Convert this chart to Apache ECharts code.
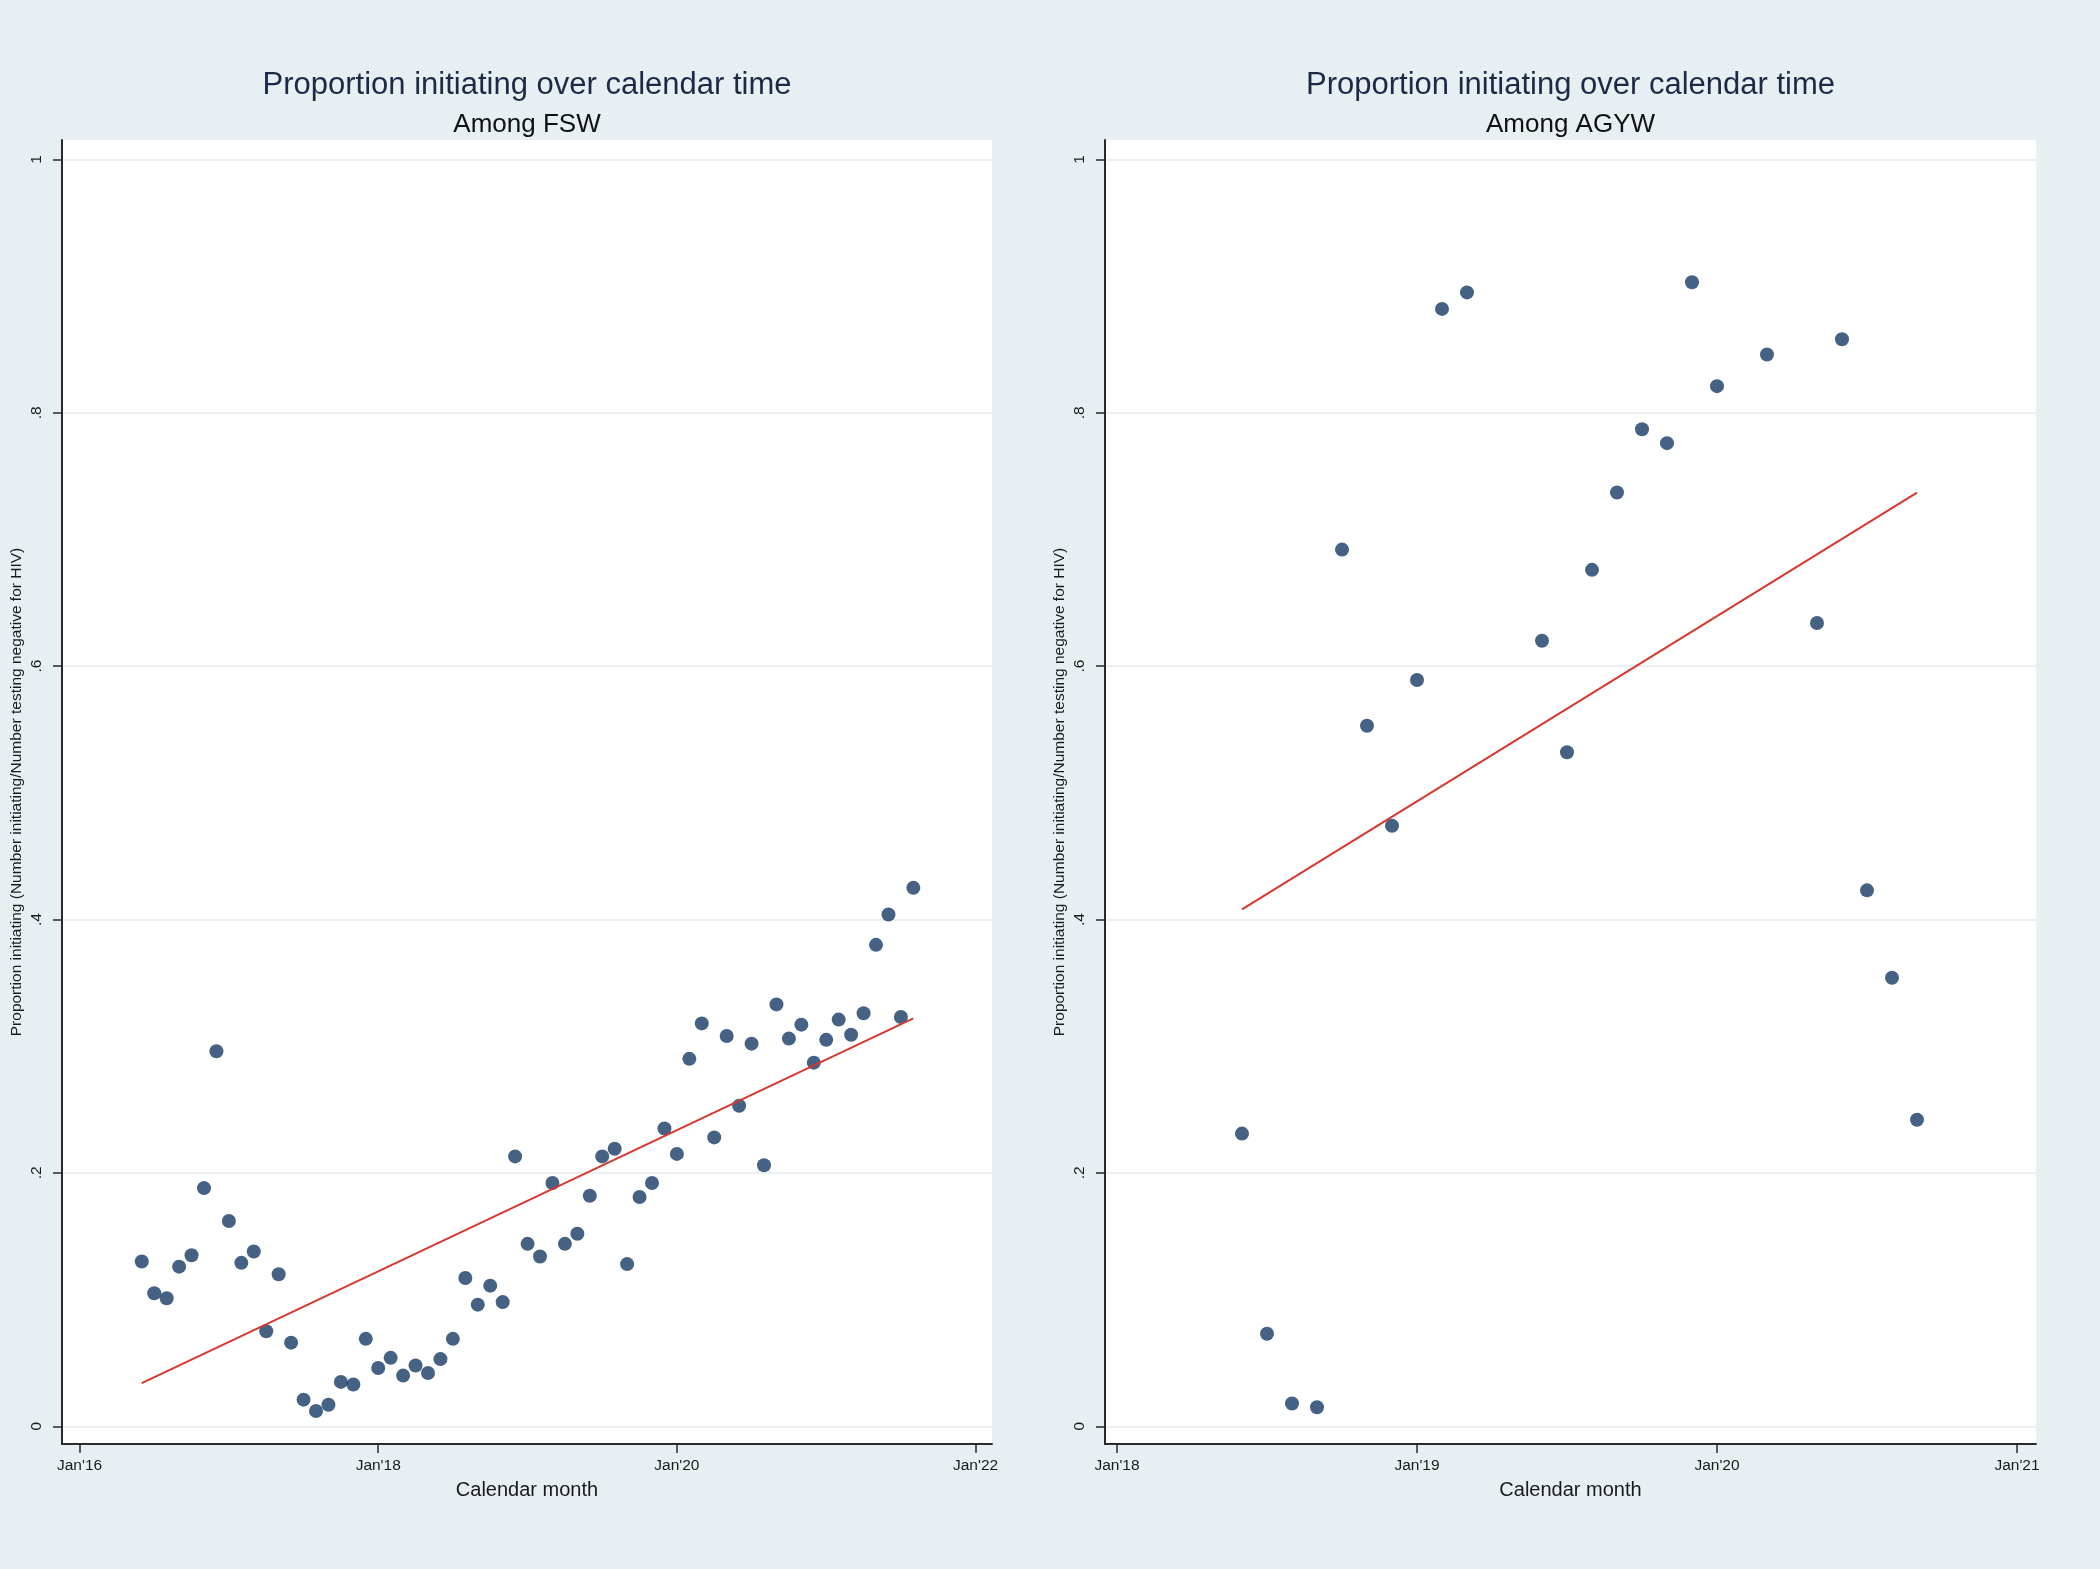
<!DOCTYPE html>
<html><head><meta charset="utf-8">
<script src="https://cdn.jsdelivr.net/npm/echarts@6/dist/echarts.min.js"></script>
<style>html,body{margin:0;padding:0;background:#e8eff2;}#c{width:2100px;height:1569px;}</style>
</head><body><div id="c"></div>
<script>
// ---------- data ----------
const titleText = 'Proportion initiating over calendar time';
const subtitles = ['Among FSW', 'Among AGYW'];
const xAxisTitle = 'Calendar month';
const yAxisTitle = 'Proportion initiating (Number initiating/Number testing negative for HIV)';

const yTickValues = [0, 0.2, 0.4, 0.6, 0.8, 1];
const yTickLabels = ['0', '.2', '.4', '.6', '.8', '1'];

const fswTickDates = ['2016-01', '2018-01', '2020-01', '2022-01'];
const fswTickLabels = ["Jan'16", "Jan'18", "Jan'20", "Jan'22"];
const agywTickDates = ['2018-01', '2019-01', '2020-01', '2021-01'];
const agywTickLabels = ["Jan'18", "Jan'19", "Jan'20", "Jan'21"];

const fswMonths = [
  '2016-06','2016-07','2016-08','2016-09','2016-10','2016-11','2016-12',
  '2017-01','2017-02','2017-03','2017-04','2017-05','2017-06','2017-07','2017-08','2017-09','2017-10','2017-11','2017-12',
  '2018-01','2018-02','2018-03','2018-04','2018-05','2018-06','2018-07','2018-08','2018-09','2018-10','2018-11','2018-12',
  '2019-01','2019-02','2019-03','2019-04','2019-05','2019-06','2019-07','2019-08','2019-09','2019-10','2019-11','2019-12',
  '2020-01','2020-02','2020-03','2020-04','2020-05','2020-06','2020-07','2020-08','2020-09','2020-10','2020-11','2020-12',
  '2021-01','2021-02','2021-03','2021-04','2021-05','2021-06','2021-07','2021-08'
];
const fswValues = [
  0.130, 0.105, 0.101, 0.126, 0.135, 0.188, 0.296,
  0.162, 0.129, 0.138, 0.075, 0.120, 0.066, 0.021, 0.012, 0.017, 0.035, 0.033, 0.069,
  0.046, 0.054, 0.040, 0.048, 0.042, 0.053, 0.069, 0.117, 0.096, 0.111, 0.098, 0.213,
  0.144, 0.134, 0.192, 0.144, 0.152, 0.182, 0.213, 0.219, 0.128, 0.181, 0.192, 0.235,
  0.215, 0.290, 0.318, 0.228, 0.308, 0.253, 0.302, 0.206, 0.333, 0.306, 0.317, 0.287,
  0.305, 0.321, 0.309, 0.326, 0.380, 0.404, 0.323, 0.425
];
const fswFitMonths = ['2016-06', '2021-08'];
const fswFitValues = [0.034, 0.322];

const agywMonths = [
  '2018-06','2018-07','2018-08','2018-09','2018-10','2018-11','2018-12',
  '2019-01','2019-02','2019-03','2019-06','2019-07','2019-08','2019-09','2019-10','2019-11','2019-12',
  '2020-01','2020-03','2020-05','2020-06','2020-07','2020-08','2020-09'
];
const agywValues = [
  0.231, 0.073, 0.018, 0.015, 0.692, 0.553, 0.474,
  0.589, 0.882, 0.895, 0.620, 0.532, 0.676, 0.737, 0.787, 0.776, 0.903,
  0.821, 0.846, 0.634, 0.858, 0.423, 0.354, 0.242
];
const agywFitMonths = ['2018-06', '2020-09'];
const agywFitValues = [0.408, 0.737];

// ---------- helpers ----------
function monthIndex(s, baseYear) {
  const [y, m] = s.split('-').map(Number);
  return (y - baseYear) * 12 + (m - 1);
}
function pairs(months, values, baseYear) {
  return months.map((d, i) => [monthIndex(d, baseYear), values[i]]);
}

const FONT = '"Liberation Sans", Arial, Helvetica, sans-serif';
const AXIS_COLOR = '#2a2a2a';
const DOT = '#163a64';
const FIT = '#d6372f';

function xAxisCfg(gridIndex, baseYear, tickDates, tickLabels, min, max) {
  const vals = tickDates.map(d => monthIndex(d, baseYear));
  return {
    type: 'value', gridIndex, min, max, position: 'bottom',
    axisLine: { show: true, onZero: false, lineStyle: { color: AXIS_COLOR, width: 2 } },
    axisTick: { show: true, customValues: vals, length: 9, lineStyle: { color: AXIS_COLOR, width: 1.5 } },
    axisLabel: {
      customValues: vals, margin: 14, color: '#1a1a1a', fontSize: 15.5, fontFamily: FONT,
      formatter: v => { const i = vals.indexOf(Math.round(v)); return i >= 0 ? tickLabels[i] : ''; }
    },
    splitLine: { show: false },
    name: xAxisTitle, nameLocation: 'middle', nameGap: 36,
    nameTextStyle: { color: '#1a1a1a', fontSize: 20, fontFamily: FONT }
  };
}
function yAxisCfg(gridIndex) {
  return {
    type: 'value', gridIndex, min: -0.014, max: 1.0153, position: 'left',
    axisLine: { show: true, onZero: false, lineStyle: { color: AXIS_COLOR, width: 2 } },
    axisTick: { show: true, customValues: yTickValues, length: 9, lineStyle: { color: AXIS_COLOR, width: 1.5 } },
    axisLabel: {
      customValues: yTickValues, rotate: 90, margin: 17, color: '#1a1a1a', fontSize: 15.5, fontFamily: FONT,
      formatter: v => { const i = yTickValues.findIndex(t => Math.abs(t - v) < 1e-6); return i >= 0 ? yTickLabels[i] : ''; }
    },
    splitLine: { show: true, lineStyle: { color: '#e5ecef', width: 1.5 } },
    name: yAxisTitle, nameLocation: 'middle', nameGap: 37, nameRotate: 90,
    nameTextStyle: { color: '#1a1a1a', fontSize: 15.5, fontFamily: FONT }
  };
}

const grids = [
  { left: 62, top: 140, width: 930, height: 1304, show: true, backgroundColor: '#ffffff', borderWidth: 0 },
  { left: 1105, top: 140, width: 931, height: 1304, show: true, backgroundColor: '#ffffff', borderWidth: 0 }
];
const centers = [62 + 930 / 2, 1105 + 931 / 2];

function titleCfg(text, cx, top, size, color) {
  return { text, left: cx, top, textAlign: 'center', padding: 0,
    textStyle: { color, fontSize: size, fontWeight: 'normal', fontFamily: FONT } };
}

const chart = echarts.init(document.getElementById('c'), null, { renderer: 'canvas' });
chart.setOption({
  backgroundColor: '#e8eff2',
  animation: false,
  title: [
    titleCfg(titleText, centers[0], 70, 31, '#1c2a48'),
    titleCfg(subtitles[0], centers[0], 112, 26, '#111'),
    titleCfg(titleText, centers[1], 70, 31, '#1c2a48'),
    titleCfg(subtitles[1], centers[1], 112, 26, '#111')
  ],
  grid: grids,
  xAxis: [
    xAxisCfg(0, 2016, fswTickDates, fswTickLabels, -1.41, 73.32),
    xAxisCfg(1, 2018, agywTickDates, agywTickLabels, -0.48, 36.76)
  ],
  yAxis: [yAxisCfg(0), yAxisCfg(1)],
  series: [
    { type: 'scatter', xAxisIndex: 0, yAxisIndex: 0, symbolSize: 14,
      itemStyle: { color: DOT }, data: pairs(fswMonths, fswValues, 2016) },
    { type: 'line', xAxisIndex: 0, yAxisIndex: 0, showSymbol: false, symbol: 'none',
      lineStyle: { color: FIT, width: 2 }, data: pairs(fswFitMonths, fswFitValues, 2016) },
    { type: 'scatter', xAxisIndex: 1, yAxisIndex: 1, symbolSize: 14,
      itemStyle: { color: DOT }, data: pairs(agywMonths, agywValues, 2018) },
    { type: 'line', xAxisIndex: 1, yAxisIndex: 1, showSymbol: false, symbol: 'none',
      lineStyle: { color: FIT, width: 2 }, data: pairs(agywFitMonths, agywFitValues, 2018) }
  ]
});
</script>
</body></html>
